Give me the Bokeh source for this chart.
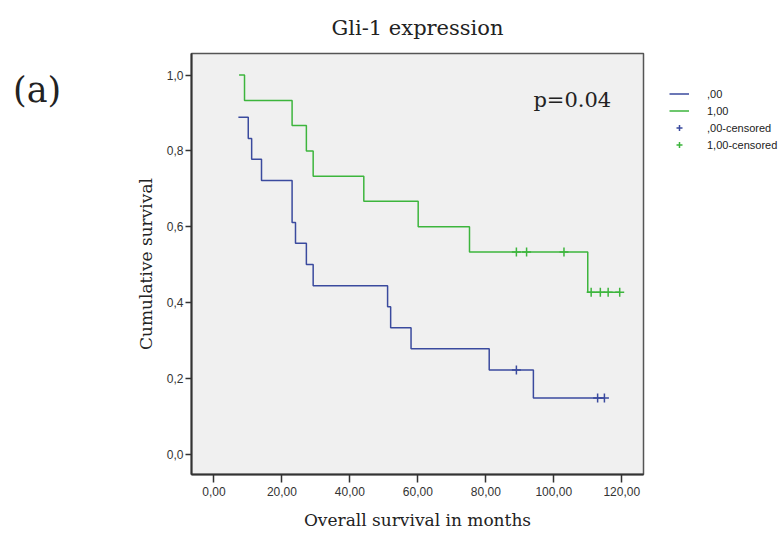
import numpy as np
from bokeh.plotting import figure
from bokeh.layouts import row
from bokeh.models import Range1d, Label, Legend, LegendItem, FixedTicker, Div
from bokeh.embed import file_html
from bokeh.resources import INLINE

# ---- data ----
blue_times = [7.2, 10.1, 11.1, 14.0, 23.0, 24.0, 27.2, 29.2, 51.1, 52.0, 58.0, 81.0, 94.0]
blue_surv = [0.889, 0.833, 0.778, 0.722, 0.611, 0.556, 0.500, 0.444, 0.389, 0.333, 0.278, 0.222, 0.148]
blue_censored = [89.0, 112.9, 114.9]

green_times = [7.4, 9.0, 23.0, 27.2, 29.2, 44.1, 60.1, 75.2, 110.0]
green_surv = [1.000, 0.933, 0.867, 0.800, 0.733, 0.667, 0.600, 0.533, 0.427]
green_censored = [89.0, 92.0, 103.0, 111.0, 113.7, 116.0, 119.4]

x_ticks = [0, 20, 40, 60, 80, 100, 120]
x_tick_labels = ["0,00", "20,00", "40,00", "60,00", "80,00", "100,00", "120,00"]
y_ticks = [0.0, 0.2, 0.4, 0.6, 0.8, 1.0]
y_tick_labels = ["0,0", "0,2", "0,4", "0,6", "0,8", "1,0"]

BLUE = "#3a4a9e"
GREEN = "#3db53d"
SERIF = "DejaVu Serif"
SANS = "Liberation Sans"


def step_xy(times, surv, censored):
    end = max(times[-1], max(censored))
    return list(times) + [end], list(surv) + [surv[-1]]


def surv_at(times, surv, t_list):
    idx = np.searchsorted(np.array(times), np.array(t_list), side="right") - 1
    return [surv[i] for i in idx]


DIV_W = 56
DIV_ML = 13

p = figure(
    frame_width=452, frame_height=421,
    min_border_left=191 - DIV_W - DIV_ML, min_border_right=20, min_border_top=53, min_border_bottom=56,
    x_range=Range1d(-6.6, 126.4), y_range=Range1d(-0.054, 1.057),
    output_backend="svg", toolbar_location=None,
    background_fill_color="#f0f0f0", border_fill_color="white",
)

p.title.text = "Gli-1 expression"
p.title.align = "center"
p.title.text_font = SERIF
p.title.text_font_size = "21px"
p.title.text_font_style = "normal"
p.title.text_color = "#222222"
p.title.standoff = 27

p.outline_line_color = "#555555"
p.outline_line_width = 1.5
p.grid.visible = False

for ax in (p.xaxis[0], p.yaxis[0]):
    ax.axis_line_color = "#333333"
    ax.axis_line_width = 2
    ax.major_tick_line_color = "#333333"
    ax.major_tick_line_width = 1.5
    ax.major_tick_in = 0
    ax.minor_tick_line_color = None
    ax.major_label_text_font = SANS
    ax.major_label_text_font_size = "12px"
    ax.major_label_text_color = "#333333"
    ax.axis_label_text_font = SERIF
    ax.axis_label_text_font_size = "17px"
    ax.axis_label_text_font_style = "normal"
    ax.axis_label_text_color = "#222222"

p.xaxis.ticker = FixedTicker(ticks=x_ticks)
p.xaxis.major_label_overrides = {t: l for t, l in zip(x_ticks, x_tick_labels)}
p.xaxis.major_tick_out = 8
p.xaxis.major_label_standoff = 4
p.xaxis.axis_label = "Overall survival in months"
p.xaxis.axis_label_standoff = 11

p.yaxis.ticker = FixedTicker(ticks=y_ticks)
p.yaxis.major_label_overrides = {t: l for t, l in zip(y_ticks, y_tick_labels)}
p.yaxis.major_tick_out = 6
p.yaxis.major_label_standoff = 2
p.yaxis.axis_label = "Cumulative survival"
p.yaxis.axis_label_standoff = 8

bx, by = step_xy(blue_times, blue_surv, blue_censored)
gx, gy = step_xy(green_times, green_surv, green_censored)
r_blue = p.step(bx, by, mode="after", line_color=BLUE, line_width=1.5)
r_green = p.step(gx, gy, mode="after", line_color=GREEN, line_width=1.5)

r_bc = p.scatter(blue_censored, surv_at(blue_times, blue_surv, blue_censored),
                 marker="cross", size=9, line_color=BLUE, line_width=1.5)
r_gc = p.scatter(green_censored, surv_at(green_times, green_surv, green_censored),
                 marker="cross", size=9, line_color=GREEN, line_width=1.5)

legend = Legend(
    items=[
        LegendItem(label=",00", renderers=[r_blue]),
        LegendItem(label="1,00", renderers=[r_green]),
        LegendItem(label=",00-censored", renderers=[r_bc]),
        LegendItem(label="1,00-censored", renderers=[r_gc]),
    ],
    location=(26, 322),
    label_text_font=SANS, label_text_font_size="11px", label_text_color="#222222",
    glyph_width=20, glyph_height=15, label_height=15, label_standoff=18,
    spacing=2, padding=2, margin=0,
    border_line_color=None, background_fill_alpha=0,
)
p.add_layout(legend, "right")

p.add_layout(Label(x=94, y=0.933, text="p=0.04", text_font=SERIF, text_font_size="21px",
                   text_baseline="middle", text_color="#222222"))

panel_label = Div(
    text="(a)", width=DIV_W, height=40, margin=(73, 0, 0, DIV_ML),
    styles={"font-family": "DejaVu Serif", "font-size": "35px", "line-height": "1",
            "color": "#222222", "white-space": "nowrap"},
)

layout = row(panel_label, p, spacing=0)
open("out.html", "w").write(file_html(layout, INLINE))
